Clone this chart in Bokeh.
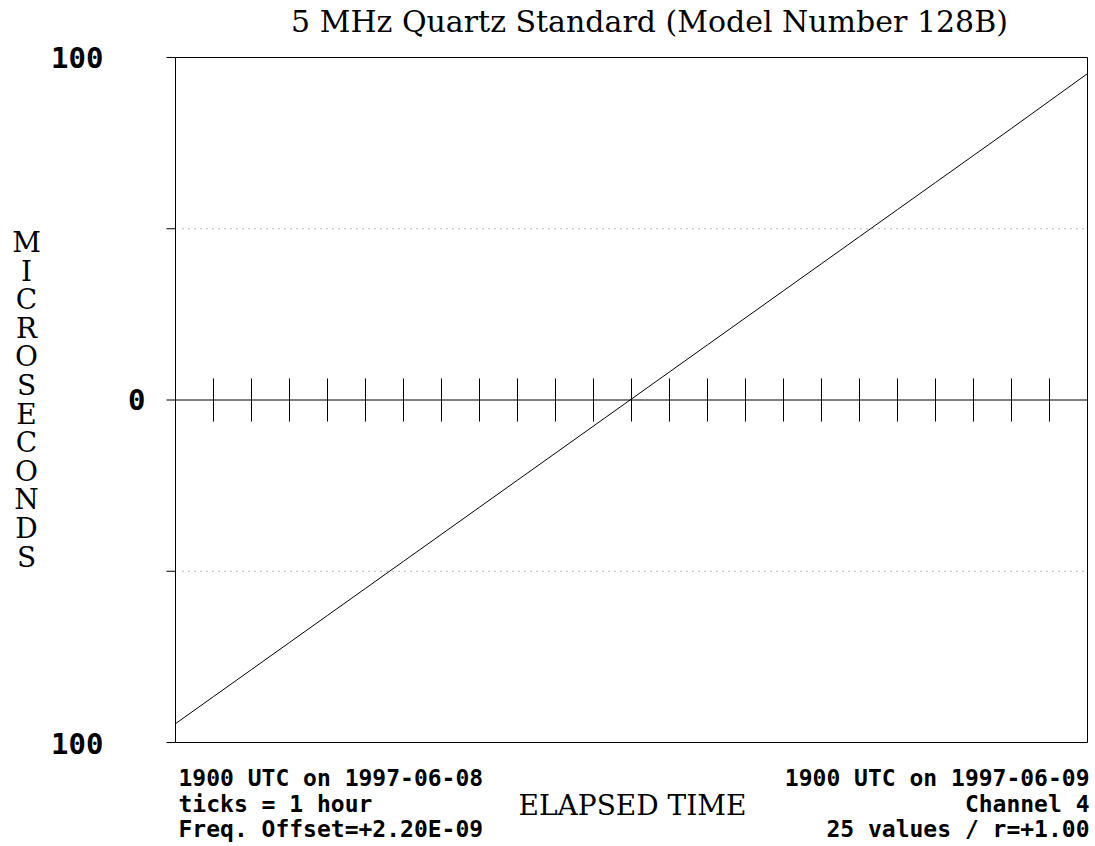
from bokeh.plotting import figure
from bokeh.models import Range1d, Label
from bokeh.embed import file_html
from bokeh.resources import INLINE

# ---- data ----
hours = list(range(25))
offset_us = [-94.5, -86.6, -78.7, -70.8, -62.9, -55.0, -47.1, -39.2, -31.3,
             -23.4, -15.5, -7.6, 0.3, 8.2, 16.1, 24.0, 31.9, 39.8, 47.7,
             55.6, 63.5, 71.4, 79.3, 87.3, 95.3]
tick_hours = list(range(1, 24))
y_ticks = [-100, -50, 0, 50, 100]
y_tick_labels = {100: "100", 0: "0", -100: "100"}
grid_levels = [-50, 50]
x_lo, x_hi = 0, 24
y_lo, y_hi = -100, 100

title_text = "5 MHz Quartz Standard (Model Number 128B)"
y_label = "MICROSECONDS"
x_label = "ELAPSED TIME"
left_notes = ["1900 UTC on 1997-06-08", "ticks = 1 hour", "Freq. Offset=+2.20E-09"]
right_notes = ["1900 UTC on 1997-06-09", "Channel 4", "25 values / r=+1.00"]

SERIF = "DejaVu Serif"
MONO = "DejaVu Sans Mono"

W, H = 1094, 845
PX_PER_HOUR = 38.0
PX_PER_US = 3.425
X0_PX = 175.0     # page x of hour 0
Y0_PX = 399.5     # page y of 0 microseconds


def hx(px):
    return (px - X0_PX) / PX_PER_HOUR


def vy(py):
    return (Y0_PX - py) / PX_PER_US


p = figure(width=W, height=H,
           x_range=Range1d(hx(0), hx(W)), y_range=Range1d(vy(H), vy(0)),
           output_backend="svg", toolbar_location=None,
           min_border=0, background_fill_color="white",
           border_fill_color="white")
p.axis.visible = False
p.grid.visible = False
p.outline_line_color = None

# dotted reference levels
p.segment(x0=[hx(182)] * len(grid_levels), y0=grid_levels,
          x1=[x_hi] * len(grid_levels), y1=grid_levels,
          line_color="#707070", line_width=1, line_dash="1 5")

# frame box
p.quad(left=[x_lo], right=[x_hi], bottom=[y_lo], top=[y_hi],
       fill_color=None, line_color="black", line_width=1)

# left ticks
p.segment(x0=[hx(166)] * len(y_ticks), y0=y_ticks,
          x1=[x_lo] * len(y_ticks), y1=y_ticks,
          line_color="black", line_width=1)

# zero line with hourly ticks
p.segment(x0=[x_lo], y0=[0], x1=[x_hi], y1=[0], line_color="black", line_width=1)
p.segment(x0=tick_hours, y0=[-6.3] * len(tick_hours),
          x1=tick_hours, y1=[6.3] * len(tick_hours),
          line_color="black", line_width=1)

# data
p.line(hours, offset_us, line_color="black", line_width=1)


def add_label(text, x_px, base_px, font, size_px, align, style="normal"):
    # empirical correction: the rendered baseline lies ~0.36 em below the anchor
    shift = 0.36 * size_px if size_px >= 26 else 0.4 * size_px
    p.add_layout(Label(x=hx(x_px), y=vy(base_px - shift), text=text,
                       text_font=font, text_font_size=f"{size_px}px",
                       text_align=align, text_baseline="alphabetic",
                       text_font_style=style, text_color="black"))


# y tick labels
label_right_px = {100: 103, 0: 145, -100: 103}
label_base_off = {100: 10, 0: 10, -100: 11}
for val, txt in y_tick_labels.items():
    base = Y0_PX - val * PX_PER_US + label_base_off[val]
    add_label(txt, label_right_px[val], base, MONO, 29, "right", "bold")

add_label(title_text, 649, 32, SERIF, 30, "center")
for i, ch in enumerate(y_label):
    add_label(ch, 26, 252 + 28.6 * i, SERIF, 28, "center")
add_label(x_label, 632, 815, SERIF, 28, "center")
for i, t in enumerate(left_notes):
    add_label(t, 178, 787 + 25.5 * i, MONO, 23, "left", "bold")
for i, t in enumerate(right_notes):
    add_label(t, 1089, 787 + 25.5 * i, MONO, 23, "right", "bold")

open("out.html", "w").write(file_html(p, INLINE))
